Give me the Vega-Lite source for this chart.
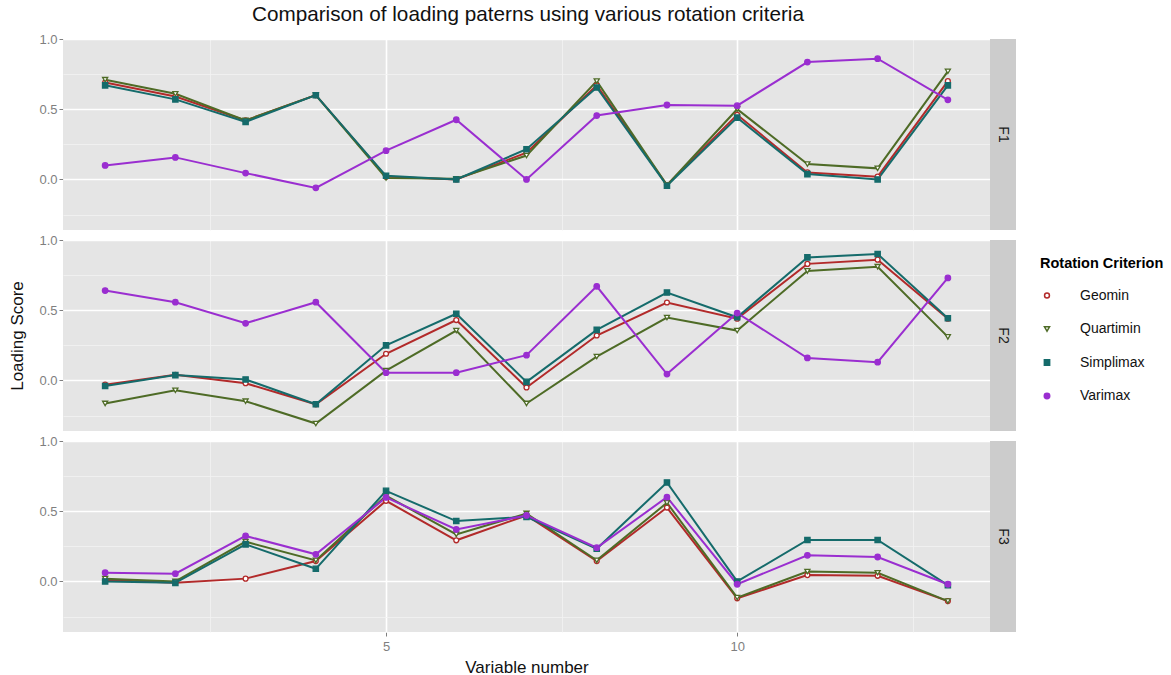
{
  "$schema": "https://vega.github.io/schema/vega-lite/v6.json",
  "padding": {"left": 8, "top": 4, "right": 5, "bottom": 2},
  "background": "white",
  "title": {"text": "Comparison of loading paterns using various rotation criteria", "anchor": "start", "dx": 243, "fontSize": 20.7, "fontWeight": "normal", "color": "#111111", "offset": 7},
  "datasets": {
    "loadings": [
      {"factor": "F1", "v": 1, "Geomin": 0.69, "Quartimin": 0.71, "Simplimax": 0.67, "Varimax": 0.10},
      {"factor": "F1", "v": 2, "Geomin": 0.59, "Quartimin": 0.61, "Simplimax": 0.57, "Varimax": 0.157},
      {"factor": "F1", "v": 3, "Geomin": 0.42, "Quartimin": 0.42, "Simplimax": 0.41, "Varimax": 0.045},
      {"factor": "F1", "v": 4, "Geomin": 0.60, "Quartimin": 0.60, "Simplimax": 0.60, "Varimax": -0.06},
      {"factor": "F1", "v": 5, "Geomin": 0.02, "Quartimin": 0.01, "Simplimax": 0.026, "Varimax": 0.205},
      {"factor": "F1", "v": 6, "Geomin": 0.00, "Quartimin": 0.005, "Simplimax": 0.00, "Varimax": 0.425},
      {"factor": "F1", "v": 7, "Geomin": 0.19, "Quartimin": 0.17, "Simplimax": 0.215, "Varimax": 0.0},
      {"factor": "F1", "v": 8, "Geomin": 0.67, "Quartimin": 0.70, "Simplimax": 0.655, "Varimax": 0.455},
      {"factor": "F1", "v": 9, "Geomin": -0.04, "Quartimin": -0.04, "Simplimax": -0.045, "Varimax": 0.53},
      {"factor": "F1", "v": 10, "Geomin": 0.46, "Quartimin": 0.50, "Simplimax": 0.44, "Varimax": 0.525},
      {"factor": "F1", "v": 11, "Geomin": 0.05, "Quartimin": 0.11, "Simplimax": 0.038, "Varimax": 0.836},
      {"factor": "F1", "v": 12, "Geomin": 0.02, "Quartimin": 0.079, "Simplimax": 0.0, "Varimax": 0.86},
      {"factor": "F1", "v": 13, "Geomin": 0.70, "Quartimin": 0.77, "Simplimax": 0.67, "Varimax": 0.567},
      {"factor": "F2", "v": 1, "Geomin": -0.03, "Quartimin": -0.164, "Simplimax": -0.04, "Varimax": 0.64},
      {"factor": "F2", "v": 2, "Geomin": 0.04, "Quartimin": -0.07, "Simplimax": 0.038, "Varimax": 0.557},
      {"factor": "F2", "v": 3, "Geomin": -0.02, "Quartimin": -0.148, "Simplimax": 0.007, "Varimax": 0.407},
      {"factor": "F2", "v": 4, "Geomin": -0.17, "Quartimin": -0.307, "Simplimax": -0.17, "Varimax": 0.557},
      {"factor": "F2", "v": 5, "Geomin": 0.19, "Quartimin": 0.07, "Simplimax": 0.25, "Varimax": 0.055},
      {"factor": "F2", "v": 6, "Geomin": 0.43, "Quartimin": 0.355, "Simplimax": 0.475, "Varimax": 0.055},
      {"factor": "F2", "v": 7, "Geomin": -0.05, "Quartimin": -0.164, "Simplimax": -0.01, "Varimax": 0.18},
      {"factor": "F2", "v": 8, "Geomin": 0.32, "Quartimin": 0.17, "Simplimax": 0.36, "Varimax": 0.67},
      {"factor": "F2", "v": 9, "Geomin": 0.555, "Quartimin": 0.448, "Simplimax": 0.626, "Varimax": 0.045},
      {"factor": "F2", "v": 10, "Geomin": 0.44, "Quartimin": 0.355, "Simplimax": 0.45, "Varimax": 0.48},
      {"factor": "F2", "v": 11, "Geomin": 0.83, "Quartimin": 0.78, "Simplimax": 0.876, "Varimax": 0.16},
      {"factor": "F2", "v": 12, "Geomin": 0.86, "Quartimin": 0.81, "Simplimax": 0.90, "Varimax": 0.13},
      {"factor": "F2", "v": 13, "Geomin": 0.44, "Quartimin": 0.31, "Simplimax": 0.443, "Varimax": 0.73},
      {"factor": "F3", "v": 1, "Geomin": 0.01, "Quartimin": 0.02, "Simplimax": 0.0, "Varimax": 0.062},
      {"factor": "F3", "v": 2, "Geomin": -0.01, "Quartimin": 0.0, "Simplimax": -0.01, "Varimax": 0.055},
      {"factor": "F3", "v": 3, "Geomin": 0.02, "Quartimin": 0.283, "Simplimax": 0.264, "Varimax": 0.324},
      {"factor": "F3", "v": 4, "Geomin": 0.145, "Quartimin": 0.15, "Simplimax": 0.09, "Varimax": 0.193},
      {"factor": "F3", "v": 5, "Geomin": 0.574, "Quartimin": 0.61, "Simplimax": 0.645, "Varimax": 0.598},
      {"factor": "F3", "v": 6, "Geomin": 0.293, "Quartimin": 0.335, "Simplimax": 0.43, "Varimax": 0.37},
      {"factor": "F3", "v": 7, "Geomin": 0.47, "Quartimin": 0.484, "Simplimax": 0.46, "Varimax": 0.47},
      {"factor": "F3", "v": 8, "Geomin": 0.145, "Quartimin": 0.15, "Simplimax": 0.233, "Varimax": 0.24},
      {"factor": "F3", "v": 9, "Geomin": 0.526, "Quartimin": 0.56, "Simplimax": 0.705, "Varimax": 0.60},
      {"factor": "F3", "v": 10, "Geomin": -0.12, "Quartimin": -0.115, "Simplimax": 0.0, "Varimax": -0.02},
      {"factor": "F3", "v": 11, "Geomin": 0.045, "Quartimin": 0.07, "Simplimax": 0.295, "Varimax": 0.186},
      {"factor": "F3", "v": 12, "Geomin": 0.04, "Quartimin": 0.062, "Simplimax": 0.295, "Varimax": 0.174},
      {"factor": "F3", "v": 13, "Geomin": -0.14, "Quartimin": -0.14, "Simplimax": -0.026, "Varimax": -0.02}
    ],
    "factors": [{"factor": "F1"}, {"factor": "F2"}, {"factor": "F3"}]
  },
  "hconcat": [
    {
      "data": {"name": "loadings"},
      "transform": [{"fold": ["Geomin", "Quartimin", "Simplimax", "Varimax"], "as": ["criterion", "loading"]}],
      "facet": {"row": {"field": "factor", "type": "nominal", "title": "Loading Score", "header": {"labels": false, "titleFontSize": 17, "titleFontWeight": "normal", "titleColor": "#111111", "titlePadding": 1}}},
      "spacing": {"row": 10},
      "spec": {
        "width": 927,
        "height": 191,
        "view": {"fill": "#E5E5E5", "stroke": null},
        "encoding": {
          "x": {
            "field": "v", "type": "quantitative",
            "scale": {"domain": [0.4, 13.6], "nice": false, "zero": false},
            "axis": {
              "title": "Variable number",
              "values": [2.5, 5, 7.5, 10, 12.5],
              "labelPadding": 4,
              "titlePadding": 6,
              "labelExpr": "(datum.value === 5 || datum.value === 10) ? datum.label : ''",
              "gridColor": {"condition": {"test": "datum.value === 5 || datum.value === 10", "value": "#FFFFFF"}, "value": "#F2F2F2"},
              "gridWidth": {"condition": {"test": "datum.value === 5 || datum.value === 10", "value": 1.6}, "value": 0.8},
              "tickOpacity": {"condition": {"test": "datum.value === 5 || datum.value === 10", "value": 1}, "value": 0}
            }
          },
          "y": {
            "field": "loading", "type": "quantitative",
            "scale": {"domain": [-0.36, 1.0], "nice": false, "zero": false},
            "axis": {
              "title": null,
              "values": [-0.25, 0, 0.25, 0.5, 0.75, 1.0],
              "labelExpr": "(datum.value === 0 || datum.value === 0.5 || datum.value === 1) ? format(datum.value, '.1f') : ''",
              "gridColor": {"condition": {"test": "datum.value === 0 || datum.value === 0.5 || datum.value === 1", "value": "#FFFFFF"}, "value": "#F2F2F2"},
              "gridWidth": {"condition": {"test": "datum.value === 0 || datum.value === 0.5 || datum.value === 1", "value": 1.6}, "value": 0.8},
              "tickOpacity": {"condition": {"test": "datum.value === 0 || datum.value === 0.5 || datum.value === 1", "value": 1}, "value": 0}
            }
          }
        },
        "layer": [
          {
            "mark": {"type": "line", "strokeWidth": 2},
            "encoding": {
              "color": {
                "field": "criterion", "type": "nominal",
                "scale": {"domain": ["Geomin", "Quartimin", "Simplimax", "Varimax"], "range": ["#B22A2A", "#4E6B26", "#156B6B", "#9A2ED0"]},
                "legend": {
                  "title": "Rotation Criterion",
                  "orient": "none",
                  "legendX": 977,
                  "legendY": 218,
                  "rowPadding": 19.5,
                  "labelFontSize": 14,
                  "labelOffset": 26,
                  "titleFontSize": 14.5,
                  "titleFontWeight": "bold",
                  "titlePadding": 17,
                  "labelColor": "#111111"
                }
              }
            }
          },
          {
            "mark": {"type": "point", "filled": true, "opacity": 1, "strokeWidth": 1.3},
            "encoding": {
              "shape": {"field": "criterion", "type": "nominal", "scale": {"domain": ["Geomin", "Quartimin", "Simplimax", "Varimax"], "range": ["circle", "triangle-down", "square", "circle"]}, "legend": null},
              "fill": {"field": "criterion", "type": "nominal", "scale": {"domain": ["Geomin", "Quartimin", "Simplimax", "Varimax"], "range": ["#FFFFFF", "#FFFFFF", "#156B6B", "#9A2ED0"]}, "legend": null},
              "stroke": {"field": "criterion", "type": "nominal", "scale": {"domain": ["Geomin", "Quartimin", "Simplimax", "Varimax"], "range": ["#B22A2A", "#4E6B26", "#156B6B", "#9A2ED0"]}, "legend": null},
              "size": {"field": "criterion", "type": "nominal", "scale": {"domain": ["Geomin", "Quartimin", "Simplimax", "Varimax"], "range": [24, 30, 22, 10]}, "legend": null}
            }
          }
        ]
      }
    },
    {
      "data": {"name": "factors"},
      "facet": {"row": {"field": "factor", "type": "nominal", "header": null}},
      "spacing": {"row": 10},
      "spec": {
        "width": 26,
        "height": 191,
        "view": {"fill": "#CCCCCC", "stroke": null},
        "mark": {"type": "text", "angle": 90, "fontSize": 14, "color": "#1A1A1A"},
        "encoding": {"text": {"field": "factor", "type": "nominal"}}
      }
    }
  ],
  "spacing": 0,
  "config": {
    "font": "Liberation Sans",
    "view": {"stroke": null},
    "axis": {
      "domain": false,
      "labelColor": "#7F7F7F",
      "labelFontSize": 13,
      "tickColor": "#7F7F7F",
      "tickSize": 4,
      "titleFontSize": 17,
      "titleFontWeight": "normal",
      "titleColor": "#111111"
    },
    "axisY": {"titlePadding": 6}
  }
}
